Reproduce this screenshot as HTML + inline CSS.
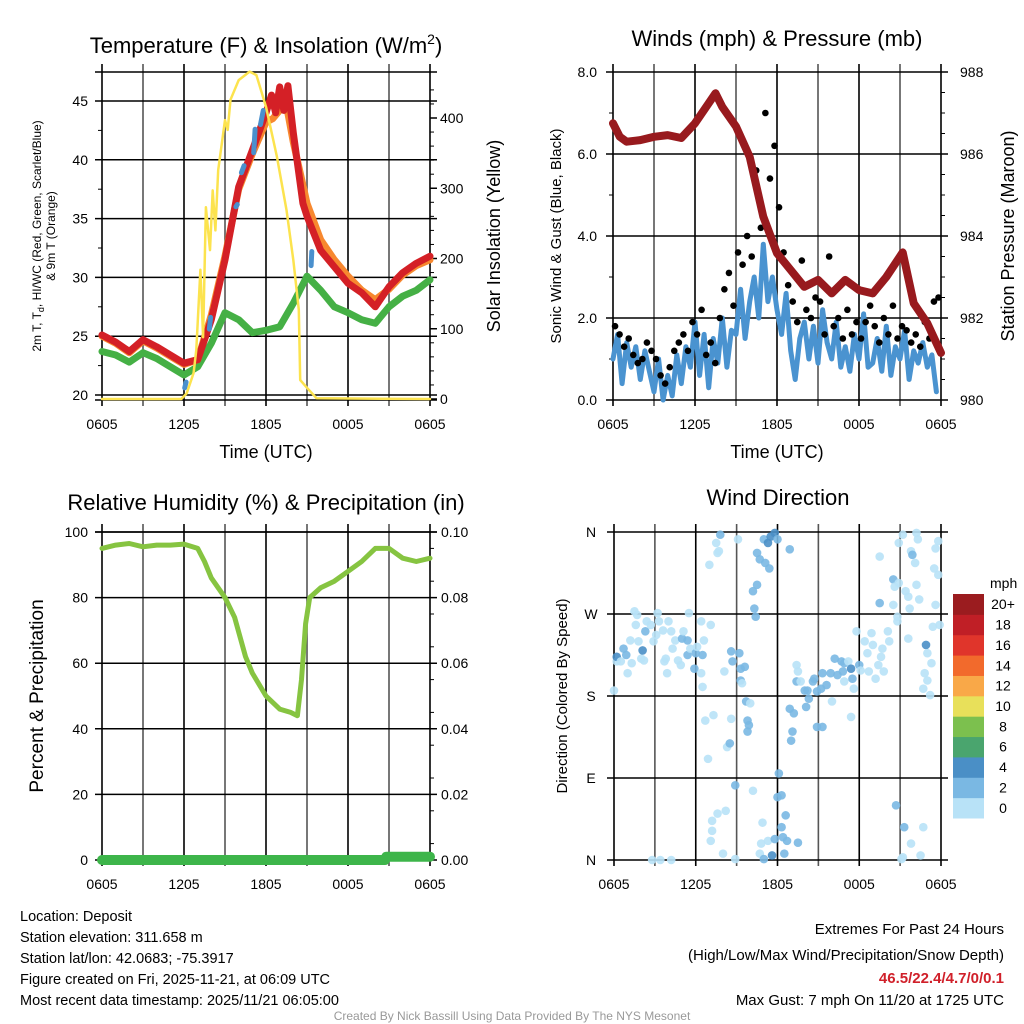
<!DOCTYPE html>
<html><head><meta charset="utf-8"><style>
html,body{margin:0;padding:0;background:#fff;}
svg{display:block;font-family:"Liberation Sans",Arial,sans-serif;}
</style></head><body>
<svg id="chart" width="1024" height="1024" viewBox="0 0 1024 1024" xmlns="http://www.w3.org/2000/svg">
<rect x="0" y="0" width="1024" height="1024" fill="#fff"/>
<g id="layer"></g>
<!-- titles -->
<text x="266" y="53" font-size="22" text-anchor="middle">Temperature (F) &amp; Insolation (W/m<tspan dy="-9" font-size="14">2</tspan><tspan dy="9">)</tspan></text>
<text x="777" y="46" font-size="22" text-anchor="middle">Winds (mph) &amp; Pressure (mb)</text>
<text x="266" y="510" font-size="22" text-anchor="middle">Relative Humidity (%) &amp; Precipitation (in)</text>
<text x="778" y="505" font-size="22" text-anchor="middle">Wind Direction</text>
<text x="266" y="458" font-size="18" text-anchor="middle">Time (UTC)</text>
<text x="777" y="458" font-size="18" text-anchor="middle">Time (UTC)</text>
<text transform="translate(41,236) rotate(-90)" font-size="12" text-anchor="middle">2m T, T<tspan font-size="9" dy="3">d</tspan><tspan dy="-3">, HI/WC (Red, Green, Scarlet/Blue)</tspan></text>
<text transform="translate(55,236) rotate(-90)" font-size="12" text-anchor="middle">&amp; 9m T (Orange)</text>
<text transform="translate(500,236) rotate(-90)" font-size="18" text-anchor="middle">Solar Insolation (Yellow)</text>
<text transform="translate(561,236) rotate(-90)" font-size="15" text-anchor="middle">Sonic Wind &amp; Gust (Blue, Black)</text>
<text transform="translate(1014,236) rotate(-90)" font-size="18" text-anchor="middle">Station Pressure (Maroon)</text>
<text transform="translate(43,696) rotate(-90)" font-size="19" text-anchor="middle">Percent &amp; Precipitation</text>
<text transform="translate(567,696) rotate(-90)" font-size="15" text-anchor="middle">Direction (Colored By Speed)</text>
<text x="990" y="588" font-size="14" text-anchor="start">mph</text>
<!-- info -->
<g font-size="14.5">
<text x="20" y="921">Location: Deposit</text>
<text x="20" y="942">Station elevation: 311.658 m</text>
<text x="20" y="963">Station lat/lon: 42.0683; -75.3917</text>
<text x="20" y="984">Figure created on Fri, 2025-11-21, at 06:09 UTC</text>
<text x="20" y="1005">Most recent data timestamp: 2025/11/21 06:05:00</text>
</g>
<g font-size="15" text-anchor="end">
<text x="1004" y="934">Extremes For Past 24 Hours</text>
<text x="1004" y="960">(High/Low/Max Wind/Precipitation/Snow Depth)</text>
<text x="1004" y="983" fill="#d0202a" font-weight="bold">46.5/22.4/4.7/0/0.1</text>
<text x="1004" y="1005">Max Gust: 7 mph On 11/20 at 1725 UTC</text>
</g>
<text x="512" y="1020" font-size="12" fill="#999" text-anchor="middle">Created By Nick Bassill Using Data Provided By The NYS Mesonet</text>
</svg>
<script>
// ---------- data ----------
const timeLabels = ["0605","1205","1805","0005","0605"];
const tempTicks = [20,25,30,35,40,45];
const solarTicks = [0,100,200,300,400];
const windTicks = ["0.0","2.0","4.0","6.0","8.0"];
const pressTicks = [980,982,984,986,988];
const rhTicks = [0,20,40,60,80,100];
const precipTicks = ["0.00","0.02","0.04","0.06","0.08","0.10"];
const dirLabels = ["N","E","S","W","N"];
const speedLabels = ["0","2","4","6","8","10","12","14","16","18","20+"];

const redHours = [0,1,2,3,4,5,6,7,8,9,10,11,12,12.4,12.7,13,13.3,13.6,14,14.7,15,16,17,18,19,20,21,22,23,24];
const redTemps = [25.1,24.5,23.7,24.7,24.1,23.4,22.7,23.0,26.4,31.5,37.7,40.8,44.0,45.5,44.0,46.2,44.2,46.3,42.3,36.3,35.2,32.3,30.9,29.5,28.7,27.5,29.2,30.4,31.2,31.8];
const orangeHours = [0,1,2,3,4,5,6,7,8,9,10,11,12,12.5,13,13.5,14,15,16,17,18,19,20,21,22,23,24];
const orangeTemps = [25.0,24.4,23.6,24.6,24.0,23.3,22.6,23.0,26.8,31.8,37.5,40.5,43.2,43.5,44.2,44.6,41.5,36.3,33.2,31.5,30.1,28.9,28.1,29.0,30.2,31.0,31.5];
const dewHours = [0,1,2,3,4,5,6,7,8,9,10,11,12,13,14,15,16,17,18,19,20,21,22,23,24];
const dewTemps = [23.7,23.4,22.8,23.6,23.1,22.4,21.7,22.4,24.4,27.0,26.4,25.3,25.5,25.8,27.8,30.1,28.9,27.5,27.0,26.4,26.1,27.5,28.4,28.9,29.8];
const hiwcSegHours = [[6.05,6.15],[7.85,7.95],[9.8,9.9],[10.2,10.4],[11.1,11.2],[11.6,11.8],[15.3,15.35]];
const hiwcSegTemps = [[20.6,21.1],[25.6,26.6],[36.0,36.2],[38.9,39.5],[40.6,42.6],[43.0,44.2],[31.0,32.2]];
const solarHours = [0,5.8,6.2,6.7,6.9,7.2,7.4,7.6,7.9,8.1,8.3,8.5,9.0,9.2,9.4,10.0,10.8,11.3,12.0,12.8,13.5,14.0,14.4,14.5,15.0,15.7,24];
const solarValues = [0,0,8,37,70,184,88,273,212,297,240,326,397,383,426,454,466,461,416,345,269,198,127,27,16,1,0];

const pressHours = [0,0.5,1,2,3,4,5,6,7,7.5,8,9,10,11,12,13,14,15,16,17,18,19,20,21.2,22,23,24];
const pressValues = [986.75,986.42,986.3,986.34,986.42,986.46,986.39,986.75,987.24,987.48,987.15,986.67,985.93,984.47,983.58,983.17,982.76,982.93,982.6,982.93,982.68,982.6,983.0,983.6,982.36,981.87,981.15];
const windSpeeds = [1.0,1.6,0.4,1.4,0.8,1.3,0.5,1.2,0.7,0.2,1.0,0.0,0.6,0.1,1.1,0.4,1.3,0.8,1.9,0.6,1.6,0.3,1.5,0.9,2.0,0.8,1.7,1.6,2.7,1.5,2.4,3.0,2.0,3.8,2.4,3.0,2.2,1.6,2.6,1.2,0.5,1.5,1.9,1.0,1.8,0.9,2.2,1.4,1.0,1.9,0.8,1.3,0.7,1.6,1.0,2.1,0.8,0.9,1.5,0.7,1.8,0.6,1.3,1.0,1.7,0.5,1.2,0.9,1.4,0.8,1.1,0.2];
const gustSpeeds = [1.8,1.6,1.3,1.5,1.1,0.9,1.0,1.4,1.2,1.0,0.6,0.4,0.8,1.2,1.4,1.6,1.2,1.9,1.6,2.2,1.1,1.4,0.9,2.0,2.7,3.1,2.3,3.6,3.3,4.0,3.5,5.6,4.2,7.0,5.4,6.2,4.7,3.6,2.8,2.4,1.9,3.4,2.2,2.0,2.5,2.4,1.6,3.5,1.8,2.0,1.5,2.2,1.6,1.9,1.5,1.9,2.3,1.8,1.4,2.0,1.6,2.3,1.5,1.8,1.7,1.4,1.6,1.3,1.9,1.5,2.4,2.5];

const rhHours = [0,1,2,3,4,5,6,7,7.5,8,9,9.7,10.5,11,12,13,13.8,14.3,14.6,14.9,15.2,16,17,18,19,20,21,22,23,24];
const rhValues = [95,96,96.5,95.5,96,96,96.3,95,91,86,80,74,62,57,50,46,45,44,55,72,80,83,85,88,91,95,95,92,91,92];
const precipHours = [0,20.7,20.8,24];
const precipValues = [0,0,0.001,0.001];

const dirHours = [0.0,0.2,0.2,0.5,0.7,0.9,1.0,1.2,1.3,1.5,1.6,1.7,1.8,2.0,2.1,2.2,2.3,2.4,2.7,2.9,3.1,3.2,3.3,3.6,3.7,3.8,3.9,4.0,4.2,4.3,4.5,4.7,4.9,5.0,5.1,5.4,5.4,5.5,5.6,5.9,6.0,6.1,6.4,6.4,6.5,6.5,6.6,7.0,7.1,7.5,7.6,7.8,7.7,8.1,8.6,8.7,9.2,9.1,9.3,9.3,9.4,9.6,9.7,10.0,9.8,9.9,9.8,10.2,10.3,10.4,10.5,10.5,10.7,11.0,11.1,11.4,11.3,11.5,11.8,12.0,12.9,13.4,13.5,13.4,13.7,14.0,14.2,14.3,14.1,12.9,13.2,13.1,13.0,14.6,14.7,14.9,15.2,15.3,15.6,14.9,15.3,16.0,15.9,16.2,16.4,16.7,16.8,16.9,16.9,17.2,17.4,17.5,17.6,17.4,17.8,18.0,18.1,18.4,18.6,18.7,18.9,19.0,19.2,19.4,19.6,19.8,19.7,20.1,20.2,20.5,20.6,20.5,20.8,20.9,20.8,19.5,19.5,21.2,20.9,21.4,21.6,21.7,21.6,21.8,21.9,22.1,22.2,22.3,22.4,22.2,22.7,22.8,22.9,23.0,23.0,23.2,23.3,23.4,23.5,23.6,23.8,23.8,23.9,23.6,2.8,3.4,4.2,6.9,6.7,7.3,7.1,7.2,7.2,7.6,8.2,8.0,8.3,8.5,8.6,8.9,8.9,10.2,10.8,10.9,10.7,11.0,11.3,11.6,11.8,12.0,12.1,12.3,12.3,12.4,12.6,12.7,12.5,13.5,20.7,21.3,21.8,22.5,22.7,21.2,21.1];
const dirDegrees = [186,218,223,218,232,225,205,241,216,273,258,269,240,221,230,219,251,262,258,240,247,271,262,252,218,221,205,262,251,232,241,219,214,243,251,241,225,271,232,210,227,234,205,262,225,190,241,324,258,348,337,357,339,207,229,218,227,352,210,197,194,212,174,172,153,148,141,295,276,267,302,337,330,352,326,320,348,355,359,352,341,214,207,196,196,186,186,177,168,166,161,141,131,196,199,185,188,205,192,146,146,174,205,221,203,218,207,196,216,218,210,199,188,157,251,214,208,240,227,207,249,236,199,214,223,207,232,251,240,308,300,280,267,304,262,282,333,357,348,295,289,276,243,339,335,326,359,352,286,302,188,205,236,227,197,181,216,256,320,342,313,350,258,280,0,0,0,111,153,159,21,43,32,51,54,7,124,128,155,82,1,76,18,41,7,1,21,5,23,69,95,71,36,25,49,21,7,19,60,36,18,5,36,3,1];
const dirSpeeds = [1,1,5,1,3,3,1,1,1,1,1,1,1,1,5,1,3,1,1,1,1,1,1,1,1,1,1,1,1,1,1,1,1,3,1,3,3,1,1,3,3,1,1,1,3,1,1,1,1,1,1,3,1,1,3,3,3,1,3,3,1,3,3,1,3,3,3,3,3,3,3,3,3,3,3,3,5,5,5,3,3,1,1,3,1,3,3,3,3,3,3,3,3,3,3,3,3,3,3,3,3,1,3,3,3,3,3,1,3,1,5,3,1,1,1,3,1,1,1,1,1,1,1,1,1,1,1,1,1,3,1,1,1,1,1,3,1,1,1,1,1,1,1,1,3,1,1,1,1,1,1,1,5,1,1,1,1,1,1,1,1,1,1,1,1,1,1,1,1,1,1,1,1,1,1,1,1,3,1,3,1,1,1,1,1,3,1,5,3,3,3,3,3,3,3,3,3,3,3,3,1,1,1,1,1,1,1,1];
const speedColors = ["#b8e2f7","#7ab8e3","#4a8fc6","#4aa56e","#7cc04e","#e8e05a","#f9a848","#f26a2c","#e0352b","#c01f26","#9b1c1f"];

// ---------- helpers ----------
const NS = "http://www.w3.org/2000/svg";
const layer = document.getElementById("layer");
function mk(tag, attrs, parent){
  const e = document.createElementNS(NS, tag);
  for (const k in attrs) e.setAttribute(k, attrs[k]);
  (parent||layer).appendChild(e);
  return e;
}
function txt(x,y,s,size,anchor,parent){
  const t = mk("text",{x:x,y:y,"font-size":size,"text-anchor":anchor},parent);
  t.textContent = s;
  return t;
}
function line(x1,y1,x2,y2,stroke,w){
  return mk("line",{x1:x1,y1:y1,x2:x2,y2:y2,stroke:stroke,"stroke-width":w});
}
function poly(xs, ys, fx, fy, color, w){
  let pts = xs.map((h,i)=>fx(h).toFixed(1)+","+fy(ys[i]).toFixed(1)).join(" ");
  return mk("polyline",{points:pts,fill:"none",stroke:color,"stroke-width":w,"stroke-linejoin":"round","stroke-linecap":"round"});
}

// panel geometry
const P = {
  tl:{x0:102,x1:430,y0:72,y1:400},
  tr:{x0:613,x1:941,y0:72,y1:400},
  bl:{x0:102,x1:430,y0:532,y1:860},
  br:{x0:614,x1:941,y0:532,y1:860}
};
function xH(p,h){return p.x0 + h*(p.x1-p.x0)/24;}

function frameTime(p, name){
  const g = mk("g",{});
  
  
  for(let i=0;i<=8;i++){
    const x = xH(p,i*3);
    const l = mk("line",{x1:x,y1:p.y0-8,x2:x,y2:p.y1+6,stroke:(i%2===0?"#000":"#555"),"stroke-width":1.6},g);
  }
  timeLabels.forEach((s,i)=>{
    const t = txt(xH(p,i*6), p.y1+29, s, 14, "middle");
    
    
  });
}
function hline(p,y,name){
  const l = line(p.x0-7,y,p.x1+7,y,"#000",1.5);
  
  
}

// ---------- top-left: temperature ----------
(function(){
  const p = P.tl;
  const yT = t => 395 - (t-20)*11.76;
  const yS = s => 399 - s*0.7025;
  const x = h => xH(p,h);
  frameTime(p,'temp');
  hline(p,p.y0,'temp-top-border'); hline(p,p.y1,'temp-bottom-border');
  tempTicks.forEach(t=>{
    hline(p,yT(t),'temp-gridline');
    const l = txt(88, yT(t)+5, String(t), 14, "end");
    
    
  });
  for(let t=22.5;t<47;t+=5){ line(p.x0-4,yT(t),p.x0,yT(t),"#000",1); }
  solarTicks.forEach(s=>{
    line(p.x1,yS(s),p.x1+7,yS(s),"#000",1.5);
    const l = txt(440, yS(s)+5, String(s), 14, "start");
    
    
  });
  for(let s=20;s<460;s+=20){ line(p.x1,yS(s),p.x1+4,yS(s),"#000",1); }
  const gl = poly(dewHours,dewTemps,x,yT,"#45b045",7);
  
  
  const ol = poly(orangeHours,orangeTemps,x,yT,"#f7882f",7);
  
  
  const rl = poly(redHours,redTemps,x,yT,"#d42026",7);
  
  
  hiwcSegHours.forEach((hs,i)=>{
    const b = poly(hs,hiwcSegTemps[i],x,yT,"#4a90cd",5);
    
    
  });
  const yl = poly(solarHours,solarValues,x,yS,"#fce34e",2.5);
  
  
})();

// ---------- top-right: winds ----------
(function(){
  const p = P.tr;
  const yW = w => 400 - w*41;
  const yP = v => 400 - (v-980)*41;
  const x = h => xH(p,h);
  frameTime(p,'winds');
  windTicks.forEach(s=>{
    const v = parseFloat(s);
    hline(p,yW(v),'wind-gridline');
    const l = txt(597, yW(v)+5, s, 14, "end");
    
    
  });
  for(let w=1;w<8;w+=2){ line(p.x0-4,yW(w),p.x0,yW(w),"#000",1); }
  pressTicks.forEach(v=>{
    const l = txt(960, yP(v)+5, String(v), 14, "start");
    
    
  });
  for(let v=980.5;v<988;v+=0.5){ line(p.x1,yP(v),p.x1+4,yP(v),"#000",1); }
  const wh = windSpeeds.map((_,i)=>i/3);
  const wl = poly(wh,windSpeeds,x,yW,"#4a93d0",5);
  
  
  gustSpeeds.forEach((g,i)=>{
    const c = mk("circle",{cx:x(i/3+0.15),cy:yW(g),r:3.3,fill:"#000"});
    
    
  });
  const pl = poly(pressHours,pressValues,x,yP,"#981a1e",8);
  
  
})();

// ---------- bottom-left: RH ----------
(function(){
  const p = P.bl;
  const yR = r => 860 - r*3.28;
  const yPr = v => 860 - v*3280;
  const x = h => xH(p,h);
  frameTime(p,'humidity');
  hline(p,p.y0,'humidity-top-border');
  rhTicks.forEach(r=>{
    hline(p,yR(r),'humidity-gridline');
    const l = txt(88, yR(r)+5, String(r), 14, "end");
    
    
  });
  precipTicks.forEach(s=>{
    const v = parseFloat(s);
    const l = txt(441, yPr(v)+5, s, 14, "start");
    
    
  });
  for(let v=0.005;v<0.1;v+=0.01){ line(p.x1,yPr(v),p.x1+4,yPr(v),"#000",1); }
  const rl = poly(rhHours,rhValues,x,yR,"#86c441",5);
  
  
  const pl = poly(precipHours,precipValues,x,yPr,"#3db54a",10);
  
  
})();

// ---------- bottom-right: direction ----------
(function(){
  const p = P.br;
  const yD = d => 860 - d*328/360;
  const x = h => xH(p,h);
  frameTime(p,'direction');
  dirLabels.forEach((s,i)=>{
    hline(p,yD(i*90),'direction-gridline');
    const l = txt(591, yD(i*90)+5, s, 14, "middle");
    
    
  });
  dirHours.forEach((h,i)=>{
    const idx = Math.min(10, Math.floor(dirSpeeds[i]/2));
    const c = mk("circle",{cx:x(h),cy:yD(dirDegrees[i]),r:4.3,fill:speedColors[idx],"fill-opacity":0.9});
    
    
  });
  // colorbar
  const top = 594, bh = 224/11;
  speedLabels.forEach((s,i)=>{
    const k = 10-i;
    const r = mk("rect",{x:953,y:top+k*bh,width:31,height:bh+0.5,fill:speedColors[i]});
    
    
    const l = txt(1003, top+k*bh+bh/2+5, s, 14, "middle");
    
    
  });
})();
</script>
</body></html>
